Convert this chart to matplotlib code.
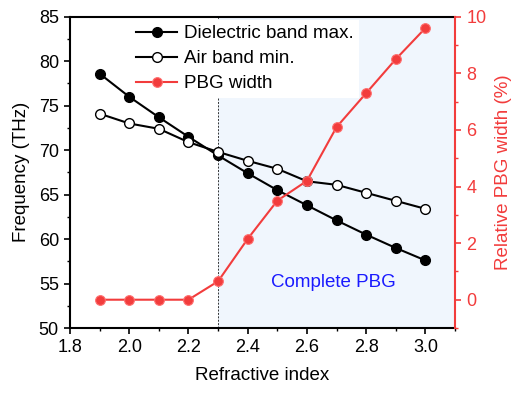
import matplotlib
matplotlib.use("Agg")
import matplotlib.pyplot as plt
from matplotlib.ticker import MultipleLocator

plt.rcParams['font.family'] = ['Liberation Sans', 'DejaVu Sans']

n = [1.9, 2.0, 2.1, 2.2, 2.3, 2.4, 2.5, 2.6, 2.7, 2.8, 2.9, 3.0]
dielectric_max = [78.6, 76.0, 73.7, 71.5, 69.4, 67.4, 65.5, 63.8, 62.1, 60.5, 59.0, 57.6]
air_min = [74.1, 73.0, 72.4, 70.9, 69.8, 68.8, 67.9, 66.5, 66.1, 65.2, 64.3, 63.4]
pbg_width = [0.0, 0.0, 0.0, 0.0, 0.65, 2.15, 3.5, 4.2, 6.1, 7.3, 8.5, 9.6]

red = '#f23c3c'

fig = plt.figure(figsize=(5.12, 3.94), dpi=100)
ax = fig.add_axes([0.1367, 0.1675, 0.752, 0.790])
ax2 = ax.twinx()

ax.axvspan(2.3, 3.1, color='#f0f6fd', zorder=0, lw=0)
ax.axvline(2.3, color='#333333', lw=0.7, ls=(0, (2, 1.5)), zorder=1)

l1, = ax.plot(n, dielectric_max, '-o', color='black', lw=1.5, ms=7,
              mfc='black', mec='black', label='Dielectric band max.', zorder=3)
l2, = ax.plot(n, air_min, '-o', color='black', lw=1.5, ms=7,
              mfc='white', mec='black', mew=1.0, label='Air band min.', zorder=3)
l3, = ax2.plot(n, pbg_width, '-o', color=red, lw=1.5, ms=7,
               mfc=red, mec='#ff7070', mew=0.8, label='PBG width', zorder=3)

ax.set_xlim(1.8, 3.1)
ax.set_ylim(50, 85)
ax2.set_ylim(-1, 10)

ax.xaxis.set_major_locator(MultipleLocator(0.2))
ax.xaxis.set_minor_locator(MultipleLocator(0.1))
ax.yaxis.set_major_locator(MultipleLocator(5))
ax.yaxis.set_minor_locator(MultipleLocator(2.5))
ax2.yaxis.set_major_locator(MultipleLocator(2))
ax2.yaxis.set_minor_locator(MultipleLocator(1))

ax.set_xticks([1.8, 2.0, 2.2, 2.4, 2.6, 2.8, 3.0])
ax.set_xticklabels(['1.8', '2.0', '2.2', '2.4', '2.6', '2.8', '3.0'])

for a in (ax, ax2):
    a.tick_params(which='major', direction='out', length=4, width=1.2, labelsize=13, pad=4)
    a.tick_params(which='minor', direction='out', length=2.5, width=1.0)

for s in ['left', 'bottom', 'top']:
    ax.spines[s].set_linewidth(1.5)
ax.spines['right'].set_visible(False)
ax2.spines['left'].set_visible(False)
ax2.spines['top'].set_visible(False)
ax2.spines['bottom'].set_visible(False)
ax2.spines['right'].set_color(red)
ax2.spines['right'].set_linewidth(1.5)
ax2.tick_params(axis='y', which='both', colors=red, labelcolor=red)

ax.set_xlabel('Refractive index', fontsize=13.5, labelpad=8)
ax.set_ylabel('Frequency (THz)', fontsize=13.5, labelpad=6)
ax2.set_ylabel('Relative PBG width (%)', fontsize=13.5, color=red, labelpad=6)

ax2.text(2.69, 0.6, 'Complete PBG', color='#1a1aff', fontsize=13.5, ha='center', va='center')

leg = ax.legend(handles=[l1, l2, l3], loc='upper left', bbox_to_anchor=(0.15, 1.0),
                frameon=True, fontsize=13.5, handlelength=2.2, handletextpad=0.35,
                labelspacing=0.42, borderpad=0.3, borderaxespad=0.15)
leg.get_frame().set_edgecolor('none')
leg.get_frame().set_facecolor('white')
leg.get_frame().set_alpha(1.0)
leg.get_frame().set_boxstyle('square', pad=0.0)
leg.set_zorder(2)

ax.set_zorder(ax2.get_zorder() - 1)
ax2.patch.set_visible(False)

fig.savefig('out.png', dpi=100)
